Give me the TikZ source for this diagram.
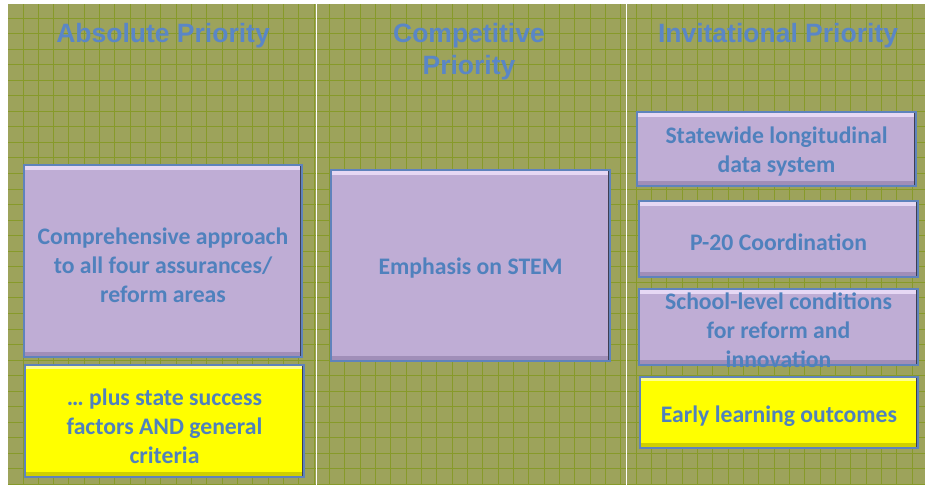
\documentclass[tikz,border=0pt]{standalone}
\usepackage{fontspec}
\setmainfont{Carlito}
\newfontfamily\titlefont{Liberation Sans}
\definecolor{bgolive}{HTML}{9DA35B}
\definecolor{gridcol}{HTML}{879A2A}
\definecolor{titleblue}{HTML}{5A86C6}
\definecolor{textblue}{HTML}{4F81BD}
\definecolor{lilac}{HTML}{BFADD5}
\definecolor{lilactop}{HTML}{E6D8F4}
\definecolor{lilacbot}{HTML}{A08EB8}
\definecolor{boxblue}{HTML}{5F83BC}
\definecolor{shadowdark}{HTML}{3E3E52}
\definecolor{yel}{HTML}{FFFF00}
\definecolor{yeltop}{HTML}{FFFF90}
\definecolor{yelbot}{HTML}{D0D000}
\tikzset{
  coltitle/.style={font=\titlefont\bfseries\fontsize{26.5}{32}\selectfont, text=titleblue, align=center, inner sep=0pt},
  boxtext/.style={font=\bfseries\fontsize{23.7}{29}\selectfont, text=textblue, align=center, inner sep=0pt},
  lilacbox/.style={draw=boxblue, line width=1.2pt, fill=lilac, inner sep=0pt,
    path picture={
      \fill[lilactop] (path picture bounding box.north west) rectangle ([yshift=-5pt]path picture bounding box.north east);
      \fill[lilacbot] (path picture bounding box.south west) rectangle ([yshift=5pt]path picture bounding box.south east);
      \fill[shadowdark] ([xshift=-2.5pt]path picture bounding box.north east) rectangle (path picture bounding box.south east);
    }},
  yellowbox/.style={draw=boxblue, line width=1.2pt, fill=yel, inner sep=0pt,
    path picture={
      \fill[yeltop] (path picture bounding box.north west) rectangle ([yshift=-4pt]path picture bounding box.north east);
      \fill[yelbot] (path picture bounding box.south west) rectangle ([yshift=5pt]path picture bounding box.south east);
      \fill[shadowdark] ([xshift=-2.5pt]path picture bounding box.north east) rectangle (path picture bounding box.south east);
    }},
  gridline/.style={draw=gridcol, line width=1pt},
  sepline/.style={draw=white, line width=1.5pt}
}
\begin{document}
\begin{tikzpicture}[x=1pt,y=-1pt]
\useasboundingbox (0,0) rectangle (925,485);
\fill[white] (0,0) rectangle (925,485);
\fill[bgolive] (8,3) rectangle (925,485);
\foreach \i in {0,...,59} { \draw[gridline] (23+\i*15.33,3) -- (23+\i*15.33,485); }
\foreach \j in {0,...,30} { \draw[gridline] (8,18+\j*15.55) -- (925,18+\j*15.55); }
\draw[sepline] (8,3) -- (925,3);
\draw[sepline] (316.5,3) -- (316.5,485);
\draw[sepline] (626.5,3) -- (626.5,485);

\node[coltitle] (t1) at (163,36) {Absolute Priority};
\node[coltitle] (t2) at (469,52) {Competitive\\Priority};
\node[coltitle] (t3) at (778,36) {Invitational Priority};

\node[lilacbox, minimum width=278pt, minimum height=192pt] (a1) at (163,261) {};
\node[boxtext] (a1t) at (163,265) {Comprehensive approach\\to all four assurances/\\reform areas};
\node[yellowbox, minimum width=279pt, minimum height=112pt] (a2) at (164.5,421) {};
\node[boxtext] (a2t) at (164.5,426) {\ldots\ plus state success\\factors AND general\\criteria};
\node[lilacbox, minimum width=279pt, minimum height=191pt] (c1) at (470.5,265.5) {};
\node[boxtext] (c1t) at (470.5,268.5) {Emphasis on STEM};
\node[lilacbox, minimum width=279pt, minimum height=74pt] (i1) at (776.5,149) {};
\node[boxtext] (i1t) at (776.5,152) {Statewide longitudinal\\data system};
\node[lilacbox, minimum width=279pt, minimum height=76pt] (i2) at (778.5,239) {};
\node[boxtext] (i2t) at (778.5,242) {P-20 Coordination};
\node[lilacbox, minimum width=279pt, minimum height=76pt] (i3) at (778.5,327) {};
\node[boxtext] (i3t) at (778.5,330) {School-level conditions\\for reform and\\innovation};
\node[yellowbox, minimum width=278pt, minimum height=71pt] (i4) at (779,412.5) {};
\node[boxtext] (i4t) at (779,416) {Early learning outcomes};
\end{tikzpicture}
\end{document}
